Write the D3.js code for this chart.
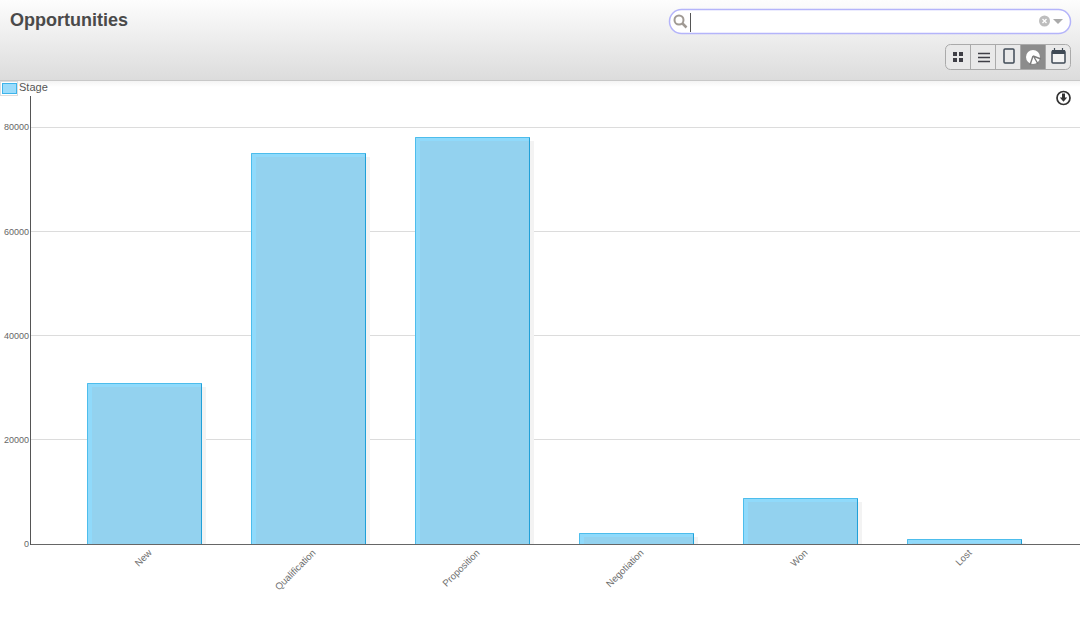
<!DOCTYPE html>
<html>
<head>
<meta charset="utf-8">
<script src="https://cdnjs.cloudflare.com/ajax/libs/d3/7.8.5/d3.min.js"></script>
<style>
  html, body { margin: 0; padding: 0; background: #fff; overflow: hidden; }
  svg { display: block; font-family: "Liberation Sans", Arial, sans-serif; }
  .axis text { font-size: 9px; fill: #666; }
  .axis.cat text { font-size: 9.6px; fill: #6e6e6e; }
  .axis line { display: none; }
</style>
</head>
<body>
<div id="chart"></div>
<script>
// Dados
const stages = ['New', 'Qualification', 'Proposition', 'Negotiation', 'Won', 'Lost'];
const amounts = [30800, 75100, 78050, 2050, 8850, 950];
const yTicks = [0, 20000, 40000, 60000, 80000];

const W = 1080, H = 631;
const svg = d3.select('#chart').append('svg').attr('width', W).attr('height', H);
const defs = svg.append('defs');

// Cabecalho
const grad = defs.append('linearGradient').attr('id', 'hdr').attr('x2', 0).attr('y2', 1);
grad.append('stop').attr('offset', 0).attr('stop-color', '#fdfdfd');
grad.append('stop').attr('offset', 1).attr('stop-color', '#dcdcdc');
const fade = defs.append('linearGradient').attr('id', 'fade').attr('x2', 0).attr('y2', 1);
fade.append('stop').attr('offset', 0).attr('stop-color', '#f4f4f4');
fade.append('stop').attr('offset', 1).attr('stop-color', '#ffffff');

svg.append('rect').attr('width', W).attr('height', 80).attr('fill', 'url(#hdr)');
svg.append('rect').attr('y', 80).attr('width', W).attr('height', 1).attr('fill', '#c8c8c8');
svg.append('rect').attr('y', 81).attr('width', W).attr('height', 6).attr('fill', 'url(#fade)');

svg.append('text').attr('x', 10).attr('y', 26)
  .style('font-size', '18px').style('font-weight', 'bold').attr('fill', '#4a4a4a')
  .text('Opportunities');

// Busca
svg.append('rect').attr('x', 669.5).attr('y', 9.5).attr('width', 401).attr('height', 24).attr('rx', 12)
  .attr('fill', '#fff').attr('stroke', '#b4b4fa').attr('stroke-width', 1.5);
const lens = svg.append('g').attr('fill', 'none').attr('stroke', '#a09a94');
lens.append('circle').attr('cx', 679).attr('cy', 20).attr('r', 4.5).attr('stroke-width', 2);
lens.append('line').attr('x1', 682.5).attr('y1', 23.5).attr('x2', 686.5).attr('y2', 27.5).attr('stroke-width', 2.5);
svg.append('line').attr('x1', 690.5).attr('x2', 690.5).attr('y1', 13).attr('y2', 32).attr('stroke', '#555');
svg.append('circle').attr('cx', 1044.5).attr('cy', 21).attr('r', 5.5).attr('fill', '#bdbdbd');
svg.append('path').attr('d', 'M1042.5 19 L1046.5 23 M1046.5 19 L1042.5 23').attr('stroke', '#fff').attr('stroke-width', 1.3);
svg.append('path').attr('d', 'M1053 19 L1063 19 L1058 24 Z').attr('fill', '#aaa');

// Botoes de visualizacao
const btnEdges = [945.5, 970.5, 995.5, 1020.5, 1045.5, 1070.5];
const btnG = svg.append('g');
btnG.append('rect').attr('x', 945.5).attr('y', 44.5).attr('width', 125).attr('height', 25).attr('rx', 5)
  .attr('fill', '#e9e9e9').attr('stroke', '#aaa');
btnG.append('rect').attr('x', 1021).attr('y', 45).attr('width', 24).attr('height', 24).attr('fill', '#8c8c8c');
btnG.selectAll('line').data(btnEdges.slice(1, 5)).enter().append('line')
  .attr('x1', d => d).attr('x2', d => d).attr('y1', 45).attr('y2', 69).attr('stroke', '#aaa');
btnG.append('path').attr('fill', '#3f3f46')
  .attr('d', 'M953 52h4v4h-4zM959 52h4v4h-4zM953 58h4v4h-4zM959 58h4v4h-4z');
btnG.append('path').attr('stroke', '#3f3f46').attr('stroke-width', 1.5)
  .attr('d', 'M978 53.5h12M978 57.5h12M978 61.5h12');
btnG.append('rect').attr('x', 1004).attr('y', 49).attr('width', 10).attr('height', 14).attr('rx', 1)
  .attr('fill', 'none').attr('stroke', '#3f4a55').attr('stroke-width', 1.5);
btnG.append('circle').attr('cx', 1033).attr('cy', 57).attr('r', 7).attr('fill', '#fff');
btnG.append('path').attr('d', 'M1033 56 L1030 65 M1033 56 L1041 59 M1034 57 L1038 64').attr('stroke', '#7c7c7c').attr('stroke-width', 1.4).attr('fill', 'none');
btnG.append('rect').attr('x', 1052).attr('y', 51).attr('width', 13).attr('height', 12).attr('rx', 1)
  .attr('fill', '#f4f4f4').attr('stroke', '#3f4a55').attr('stroke-width', 1.5);
btnG.append('rect').attr('x', 1052).attr('y', 50).attr('width', 13).attr('height', 4).attr('fill', '#3f4a55');
btnG.append('path').attr('d', 'M1054.5 48v4M1062.5 48v4').attr('stroke', '#3f4a55').attr('stroke-width', 1.2);

// Legenda
svg.append('rect').attr('x', 0.5).attr('y', 81.5).attr('width', 17).attr('height', 14).attr('fill', '#fff').attr('stroke', '#ddd');
svg.append('rect').attr('x', 2.5).attr('y', 83.5).attr('width', 14).attr('height', 10).attr('fill', '#9bdcfb').attr('stroke', '#3eb4ea');
svg.append('text').attr('x', 19).attr('y', 91).style('font-size', '11px').attr('fill', '#555').text('Stage');

// Download
svg.append('circle').attr('cx', 1063.5).attr('cy', 98).attr('r', 6.5).attr('fill', '#fff').attr('stroke', '#333').attr('stroke-width', 1.7);
svg.append('path').attr('d', 'M1062 93.5h3v4h2.2l-3.7 4.2l-3.7-4.2h2.2z').attr('fill', '#333');

// Escalas
const x = d3.scaleBand().domain(stages).range([62, 1046]).paddingInner(0.305).paddingOuter(0.1525);
const y = d3.scaleLinear().domain([0, 80000]).range([544, 127]);

// Grade
svg.selectAll('.grid').data(yTicks.slice(1)).enter().append('line')
  .attr('class', 'grid')
  .attr('x1', 30).attr('x2', W)
  .attr('y1', d => Math.floor(y(d)) + 0.5).attr('y2', d => Math.floor(y(d)) + 0.5)
  .attr('stroke', '#dcdcdc');

// Barras
const bw = x.bandwidth() + 1;
const bars = svg.selectAll('.bar').data(stages).enter().append('g').attr('class', 'bar');
const topOf = (d, i) => Math.round(y(amounts[i]));
bars.append('rect')
  .attr('x', d => x(d) + 4)
  .attr('y', (d, i) => topOf(d, i) + 4)
  .attr('width', bw)
  .attr('height', (d, i) => Math.max(0, 544 - topOf(d, i) - 4))
  .attr('fill', '#f3f3f3');
bars.append('rect')
  .attr('x', d => x(d))
  .attr('y', (d, i) => topOf(d, i))
  .attr('width', bw)
  .attr('height', (d, i) => 544 - topOf(d, i))
  .attr('fill', '#93d2ef');
bars.append('rect')
  .attr('x', d => x(d))
  .attr('y', (d, i) => topOf(d, i))
  .attr('width', 5)
  .attr('height', (d, i) => 544 - topOf(d, i))
  .attr('fill', '#90dafb');
bars.append('rect')
  .attr('x', d => x(d))
  .attr('y', (d, i) => topOf(d, i))
  .attr('width', bw)
  .attr('height', (d, i) => Math.min(4, 544 - topOf(d, i)))
  .attr('fill', '#90dafb');
bars.append('path')
  .attr('fill', 'none').attr('stroke', '#4dbdec').attr('stroke-width', 1)
  .attr('d', (d, i) => `M${x(d) + 0.5} 544V${topOf(d, i) + 0.5}H${x(d) + bw - 0.5}`);
bars.append('path')
  .attr('fill', 'none').attr('stroke', '#1f9fd8').attr('stroke-width', 1)
  .attr('d', (d, i) => `M${x(d) + bw - 0.5} ${topOf(d, i) + 0.5}V544`);

// Eixos
const xAxis = svg.append('g').attr('class', 'axis cat')
  .attr('transform', 'translate(0,544)')
  .call(d3.axisBottom(x).tickSize(0).tickSizeOuter(0));
xAxis.select('.domain').remove();
xAxis.selectAll('text')
  .attr('text-anchor', 'end')
  .attr('x', 5).attr('y', 6).attr('dy', '0.5em')
  .attr('transform', 'rotate(-45 5 6)');
svg.append('line').attr('x1', 30).attr('x2', W).attr('y1', 544.5).attr('y2', 544.5).attr('stroke', '#666');

const yAxis = svg.append('g').attr('class', 'axis')
  .attr('transform', 'translate(30,0)')
  .call(d3.axisLeft(y).tickValues(yTicks).tickFormat(d => d).tickSize(0).tickPadding(1));
yAxis.select('.domain').remove();
svg.append('line').attr('x1', 30.5).attr('x2', 30.5).attr('y1', 96).attr('y2', 545).attr('stroke', '#555');
</script>
</body>
</html>
